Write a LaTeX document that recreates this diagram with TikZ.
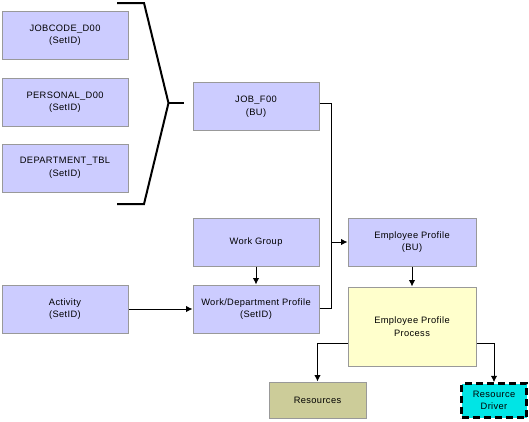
\documentclass[tikz,border=0pt]{standalone}
\usepackage{fontspec}
\setmainfont{Liberation Sans}[LetterSpace=4]
\usetikzlibrary{arrows.meta}
\definecolor{lav}{HTML}{CCCCFF}
\definecolor{bord}{HTML}{999999}
\definecolor{pale}{HTML}{FFFFCC}
\definecolor{olive}{HTML}{CCCC99}
\definecolor{cyanb}{HTML}{00E5E5}
\tikzset{
  box/.style={draw=bord, line width=1pt, fill=lav, minimum width=126pt, minimum height=48pt, inner sep=0pt, align=center, font=\fontsize{9.3}{12.5}\selectfont},
  conn/.style={draw=black, line width=1pt},
  arr/.style={conn, -{Latex[length=6.5pt,width=6.5pt]}},
}
\begin{document}
\begin{tikzpicture}[x=1pt,y=-1pt]
\useasboundingbox (0,0) rectangle (529,421);
\node[box] (jobcode) at (65,35) {JOBCODE\_D00\\(SetID)};
\node[box] (personal) at (65,102) {PERSONAL\_D00\\(SetID)};
\node[box] (dept) at (65,168) {DEPARTMENT\_TBL\\(SetID)};
\node[box] (activity) at (65,309) {Activity\\(SetID)};
\node[box] (job) at (256,106.5) {JOB\_F00\\(BU)};
\node[box] (wg) at (256,242) {Work Group};
\node[box] (wdp) at (256,309) {Work/Department Profile\\(SetID)};
\node[box, minimum width=128pt] (ep) at (412,242) {Employee Profile\\(BU)};
\node[box, fill=pale, minimum width=128pt, minimum height=79pt] (epp) at (412,326.5) {Employee Profile\\Process};
\node[box, fill=olive, minimum width=97pt, minimum height=36pt] (res) at (317.5,400) {Resources};
\node[box, draw=black, dashed, dash pattern=on 7pt off 4pt, line width=2.5pt, fill=cyanb, minimum width=65pt, minimum height=34pt] (rd) at (494,400.5) {Resource\\Driver};
% bracket
\coordinate (b1) at (117,3);
\coordinate (b2) at (144,3);
\coordinate (b3) at (168.5,103);
\coordinate (b4) at (144,204);
\coordinate (b5) at (117,204);
\coordinate (b6) at (184,103);
\draw[line width=2pt, line join=miter] (b1) -- (b2) -- (b3) -- (b4) -- (b5);
\draw[line width=2pt] (b3) -- (b6);
% connectors
\coordinate (jn) at (331,242);
\draw[conn] (job.east |- 0,103) -| (jn);
\draw[conn] (wdp.east |- 0,308) -| (jn);
\draw[arr] (jn) -- (ep.west);
\draw[arr] (activity.east) -- (wdp.west);
\draw[arr] (wg.south) -- (wdp.north);
\draw[arr] (ep.south) -- (epp.north);
\draw[arr] (epp.west |- 0,343) -| (res.north);
\draw[arr] (epp.east |- 0,343) -| (rd.north);
\end{tikzpicture}
\end{document}
